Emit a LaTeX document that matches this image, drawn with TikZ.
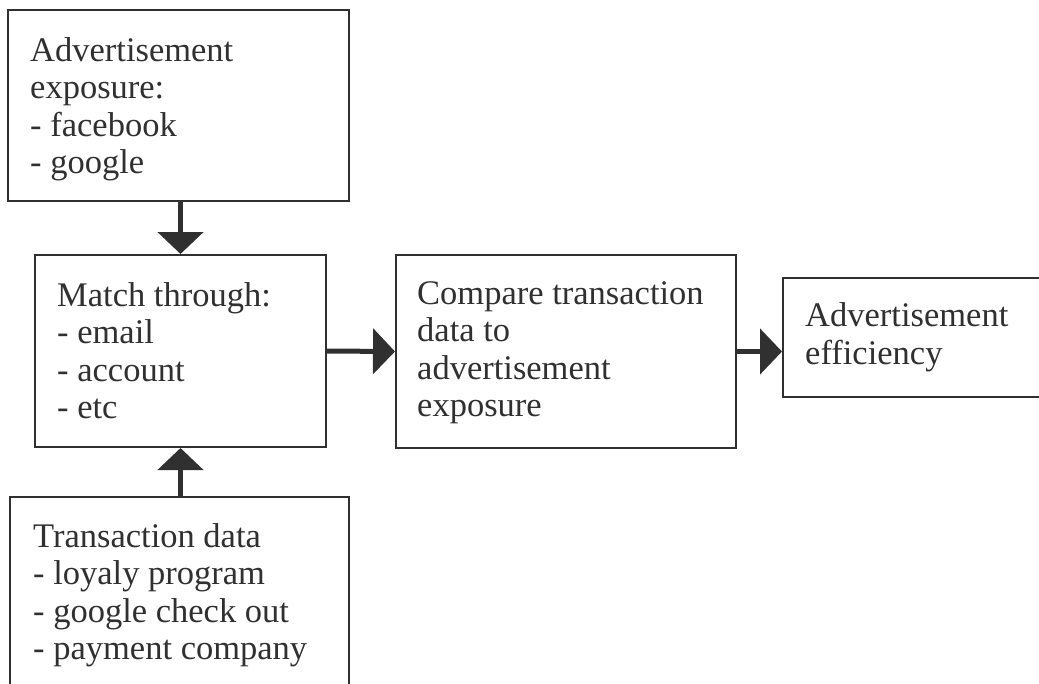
\documentclass[tikz,border=0pt]{standalone}
\usepackage{fontspec}
\setmainfont{Liberation Serif}
\usetikzlibrary{arrows.meta}
\definecolor{ink}{HTML}{303030}
\begin{document}
\begin{tikzpicture}[x=1pt,y=-1pt,
  box/.style={draw=ink, line width=2pt, rectangle, inner sep=0pt},
  % multi-line texts: the base anchor sits on the last line's baseline
  txt/.style={anchor=base west, align=left, inner sep=0pt, text=ink,
    font=\fontsize{34.5}{37.5}\selectfont},
  flow/.style={draw=ink, line width=5pt, -{Triangle[length=22pt,width=45pt]}}]
\useasboundingbox (0,0) rectangle (1039,683);
\clip (0,0) rectangle (1039,683);

% boxes
\node[box, minimum width=341pt, minimum height=191pt] (adv) at (178.5,105.5) {};
\node[box, minimum width=291pt, minimum height=192pt] (match) at (180.5,351) {};
\node[box, minimum width=340pt, minimum height=193pt] (cmp) at (566,351.5) {};
\node[box, minimum width=280pt, minimum height=119pt] (eff) at (923,337.5) {};
\node[box, minimum width=339pt, minimum height=226pt] (trans) at (179.5,610) {};

% box texts
\node[txt] (advtxt) at (30,173.5) {Advertisement\\exposure:\\- facebook\\- google};
\node[txt] (matchtxt) at (57,418.5) {Match through:\\- email\\- account\\- etc};
\node[txt] (cmptxt) at (417,416.5) {Compare transaction\\data to\\advertisement\\exposure};
\node[txt] (efftxt) at (805,364) {Advertisement\\efficiency};
\node[txt] (transtxt) at (33,659.5) {Transaction data\\- loyaly program\\- google check out\\- payment company};

% connectors
\draw[flow] (adv.south -| match.north) -- (match.north);
\draw[flow] (trans.north -| match.south) -- (match.south);
\draw[flow] (match.east) -- (cmp.west);
\draw[flow] (cmp.east) -- (cmp.east -| eff.west);
\end{tikzpicture}
\end{document}
